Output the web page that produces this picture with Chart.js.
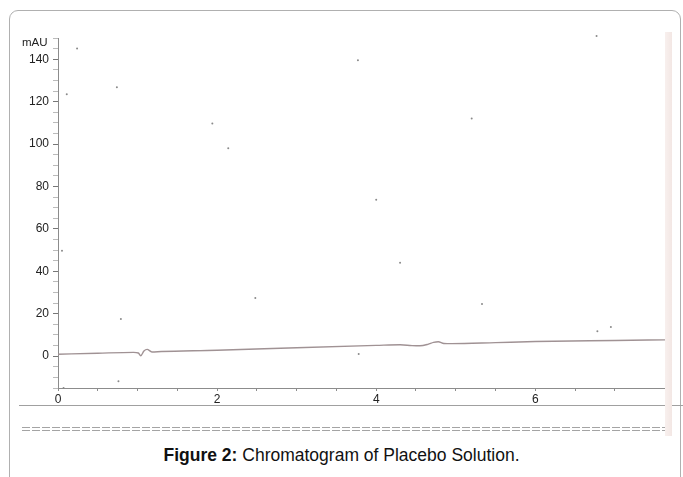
<!DOCTYPE html>
<html>
<head>
<meta charset="utf-8">
<script src="https://cdn.jsdelivr.net/npm/chart.js@4"></script>
<style>
  html, body { margin: 0; padding: 0; background: #fff; }
  body { width: 683px; height: 477px; position: relative; overflow: hidden; font-family: "Liberation Sans", Arial, sans-serif; }
  #frame { position: absolute; left: 9px; top: 10px; width: 672px; height: 480px; border: 1px solid #b0b0b0; border-radius: 9px; box-sizing: border-box; }
  #wrap { position: absolute; left: 0; top: 0; width: 683px; height: 420px; }
  #unit { position: absolute; left: 22px; top: 36px; font-size: 11.5px; color: #222; }
  #rule { position: absolute; left: 19px; top: 405px; width: 664px; height: 1px; background: #a0a0a0; }
  .dash { position: absolute; left: 22px; width: 643px; height: 1px;
          background: repeating-linear-gradient(to right, #a4a4a4 0, #a4a4a4 8px, transparent 8px, transparent 10px); }
  #strip { position: absolute; left: 665px; top: 32px; width: 7px; height: 404px; background: linear-gradient(to right, #f8f0ee, #f3e7e4); }
  #caption { position: absolute; left: 0; width: 683px; top: 445px; text-align: center; font-size: 17.5px; color: #111; }
</style>
</head>
<body>
<div id="frame"></div>
<div id="wrap"><canvas id="chart"></canvas></div>
<div id="unit">mAU</div>
<div id="rule"></div>
<div class="dash" style="top:427px"></div>
<div class="dash" style="top:430px"></div>
<div id="strip"></div>
<div id="caption"><b>Figure 2:</b> Chromatogram of Placebo Solution.</div>
<script>
// Retention time (min) and detector signal (mAU) of the baseline trace
const times  = [0, 0.5, 0.95, 1.01, 1.04, 1.08, 1.12, 1.18, 1.3, 2, 3, 4, 4.3, 4.45, 4.55, 4.65, 4.72, 4.78, 4.85, 4.95, 5.5, 6, 7, 7.63];
const signal = [0.9, 1.4, 1.8, 1.5, 0.2, 2.4, 3.2, 2.0, 2.2, 2.8, 4.0, 5.1, 5.4, 5.0, 4.9, 5.6, 6.5, 6.8, 6.0, 5.9, 6.4, 6.9, 7.4, 7.7];

// Stray specks on the scanned paper
const speckTimes  = [0.11, 0.74, 3.77, 1.94, 2.14, 4.0, 5.33, 2.48, 0.79, 0.05, 6.77, 6.94, 6.78, 6.95, 0.76, 3.78, 0.24, 4.3, 5.2, 0.07];
const speckValues = [123.5, 126.8, 139.5, 109.7, 98, 73.8, 24.6, 27.4, 17.5, 49.7, 151, 152.8, 11.8, 13.7, -11.8, 1, 145, 44, 112, -15];

// Axis ranges and tick labels
const xMin = 0, xMax = 7.63, xStep = 0.5;
const yMin = -15, yMax = 150, yStep = 5;
const xLabels = [0, 2, 4, 6];
const yLabels = [0, 20, 40, 60, 80, 100, 120, 140];

document.addEventListener('DOMContentLoaded', () => {
    const ctx = document.getElementById('chart').getContext('2d');

    new Chart(ctx, {
        type: 'line',
        data: {
            datasets: [{
                label: 'Placebo',
                data: times.map((t, i) => ({ x: t, y: signal[i] })),
                borderColor: '#a09294',
                borderWidth: 1.4,
                pointRadius: 0,
                cubicInterpolationMode: 'monotone',
                fill: false
            }, {
                label: 'specks',
                type: 'scatter',
                data: speckTimes.map((t, i) => ({ x: t, y: speckValues[i] })),
                pointRadius: 1,
                pointBackgroundColor: '#8a8a8a',
                pointBorderWidth: 0,
                showLine: false,
                clip: false
            }]
        },
        options: {
            responsive: true,
            maintainAspectRatio: false,
            animation: false,
            layout: { padding: { left: 0, right: 18, top: 38, bottom: 12 } },
            plugins: {
                legend: { display: false },
                tooltip: { enabled: false }
            },
            scales: {
                x: {
                    type: 'linear',
                    min: xMin,
                    max: xMax,
                    afterFit: scale => { scale.height = 20; },
                    border: { display: true, color: '#8c8c8c', width: 1 },
                    grid: { drawOnChartArea: false, tickLength: 3, color: '#8c8c8c' },
                    ticks: {
                        stepSize: xStep,
                        autoSkip: false,
                        padding: 1,
                        color: '#222',
                        font: { family: 'Liberation Sans', size: 12 },
                        maxRotation: 0,
                        callback: v => xLabels.includes(v) ? String(v) : ''
                    }
                },
                y: {
                    min: yMin,
                    max: yMax,
                    afterFit: scale => { scale.width = 58; },
                    border: { display: true, color: '#8c8c8c', width: 1 },
                    grid: {
                        drawOnChartArea: false,
                        tickLength: 5,
                        color: '#8c8c8c',
                        tickColor: c => yLabels.includes(c.tick.value) ? '#777' : '#bbb'
                    },
                    ticks: {
                        stepSize: yStep,
                        autoSkip: false,
                        padding: 4,
                        color: '#222',
                        font: { family: 'Liberation Sans', size: 12 },
                        callback: v => yLabels.includes(v) ? String(v) : ''
                    }
                }
            }
        }
    });
});
</script>
</body>
</html>
